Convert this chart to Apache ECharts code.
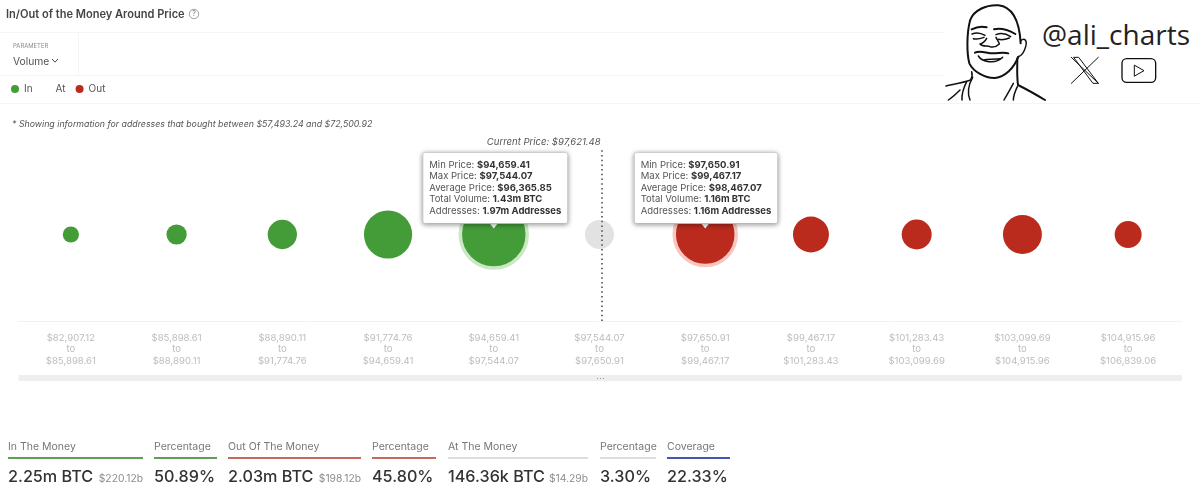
<!DOCTYPE html>
<html>
<head>
<meta charset="utf-8">
<title>In/Out of the Money Around Price</title>
<script src="https://cdn.jsdelivr.net/npm/echarts@6/dist/echarts.min.js"></script>
<style>
  html, body { margin: 0; padding: 0; background: #fff; }
  body { width: 1200px; height: 496px; overflow: hidden; position: relative; font-family: Inter, "Noto Sans", sans-serif; }
  #chart { position: absolute; left: 0; top: 0; width: 1200px; height: 496px; }
  .rule { position: absolute; background: #f5f5f5; }
  .abs { position: absolute; white-space: nowrap; }
  .stat { position: absolute; top: 440px; }
  .stat .name { font-size: 10.5px; line-height: 13px; color: #777; height: 17px; white-space: nowrap; }
  .stat .bar { height: 1.5px; }
  .stat .num { margin-top: 6px; font-size: 16.2px; line-height: 22px; font-weight: 500; color: #333; white-space: nowrap; display: flex; justify-content: space-between; align-items: baseline; }
  .stat .num small { font-size: 10.3px; font-weight: 400; color: #8d8d8d; }
</style>
</head>
<body>
<div id="chart"></div>

<div class="rule" style="left:0;top:32px;width:945px;height:1px"></div>
<div class="rule" style="left:0;top:75px;width:1200px;height:1px"></div>
<div class="rule" style="left:0;top:103px;width:1200px;height:1px"></div>
<div class="rule" style="left:78px;top:32px;width:1px;height:43px"></div>

<svg class="abs" style="left:188px;top:8px" width="12" height="12" viewBox="0 0 12 12">
  <circle cx="6" cy="6" r="4.7" fill="none" stroke="#888" stroke-width="0.8"/>
  <text x="6" y="8.4" text-anchor="middle" font-size="7" fill="#777" font-family="Inter">?</text>
</svg>
<div class="abs" style="left:13px;top:42px;font-size:5.9px;color:#8a8a8a">PARAMETER</div>
<div class="abs" style="left:13px;top:55px;font-size:10.3px;color:#555">Volume</div>
<svg class="abs" style="left:51px;top:58px" width="8" height="6" viewBox="0 0 8 6">
  <path d="M1 1 L4 4.2 L7 1" fill="none" stroke="#444" stroke-width="1"/>
</svg>

<!-- watermark -->
<div class="abs" style="left:945px;top:0;width:255px;height:102px;background:#fff"></div>
<svg class="abs" style="left:930px;top:0" width="270" height="110" viewBox="0 0 810 330" fill="none" stroke="#111" stroke-width="4.5" stroke-linecap="round" stroke-linejoin="round">
  <path d="M120 62 C130 30 170 14 205 16 C245 20 268 60 272 130" stroke-width="6"/>
  <path d="M120 62 C110 100 110 160 118 190 C130 215 165 235 195 234 C225 230 252 205 265 170" stroke-width="6"/>
  <path d="M272 122 C285 112 292 122 287 140 C282 158 272 168 265 170"/>
  <path d="M262 175 C262 200 260 225 264 255 C290 268 320 285 345 300" stroke-width="6"/>
  <path d="M125 215 C128 225 125 235 122 240 C100 248 75 252 48 258"/>
  <path d="M128 232 C115 255 112 280 120 300 M110 245 C100 265 95 285 96 300 M90 270 C80 280 70 290 55 300"/>
  <path d="M250 250 C240 270 230 285 222 300 M262 260 C255 275 250 290 250 300"/>
  <path d="M125 88 C140 80 155 78 170 82 M192 88 C210 84 235 90 256 102" stroke-width="6"/>
  <path d="M126 102 C140 96 155 100 165 106 M130 116 C142 120 152 116 162 112 M198 104 C212 98 230 102 242 110 M205 118 C215 120 228 118 238 114"/>
  <path d="M170 115 C165 125 155 132 150 132 C158 142 172 136 180 140 C190 142 202 138 208 132 C206 125 202 120 198 112"/>
  <path d="M135 158 C150 150 170 160 190 160 C205 160 220 155 235 160" stroke-width="6"/>
  <path d="M145 168 C155 185 195 195 218 172 M160 180 C175 178 195 178 210 176"/>
  <path d="M424 172 L505 250 M505 172 L424 250 M432 172 L446 172 L505 250 L490 250 Z" stroke-width="3"/>
  <rect x="576" y="176" width="101" height="71" rx="14" stroke-width="4"/>
  <path d="M614 196 L642 212 L614 228 Z" stroke-width="3"/>
</svg>
<div class="abs" style="left:1042px;top:15px;font-family:'Open Sans';font-size:28px;line-height:38px;color:#222">@ali_charts</div>

<div id="stats"></div>

<script>
// prices of each band
var bandLows = ['$82,907.12', '$85,898.61', '$88,890.11', '$91,774.76', '$94,659.41', '$97,544.07', '$97,650.91', '$99,467.17', '$101,283.43', '$103,099.69', '$104,915.96'];
var bandHighs = ['$85,898.61', '$88,890.11', '$91,774.76', '$94,659.41', '$97,544.07', '$97,650.91', '$99,467.17', '$101,283.43', '$103,099.69', '$104,915.96', '$106,839.06'];

// volume per band in thousands of BTC
var inVolumes = [30, 55, 150, 585, 1430];
var atVolumes = [146.36];
var outVolumes = [1160, 263, 160, 327, 120];

// the two callouts left open in the picture
var calloutBands = [4, 6];
var calloutMin = ['$94,659.41', '$97,650.91'];
var calloutMax = ['$97,544.07', '$99,467.17'];
var calloutAvg = ['$96,365.85', '$98,467.07'];
var calloutVolume = ['1.43m BTC', '1.16m BTC'];
var calloutAddresses = ['1.97m Addresses', '1.16m Addresses'];

var currentPriceLabel = 'Current Price: $97,621.48';
var currentPriceSlot = 5.52;

var statNames = ['In The Money', 'Percentage', 'Out Of The Money', 'Percentage', 'At The Money', 'Percentage', 'Coverage'];
var statValues = ['2.25m BTC', '50.89%', '2.03m BTC', '45.80%', '146.36k BTC', '3.30%', '22.33%'];
var statUsd = ['$220.12b', '', '$198.12b', '', '$14.29b', '', ''];

var GREEN = '#449c38', RED = '#ba2b1d', GREY = '#e2e2e2';
var statColors = ['#5f9f55', '#5f9f55', '#c46a58', '#c46a58', '#dddddd', '#dddddd', '#4357ad'];
var statLeft = [8, 154, 228, 372, 448, 600, 667];
var statWidth = [135, 63, 133, 64, 140, 56, 63];

var statsHtml = '';
statNames.forEach(function (name, i) {
    statsHtml += '<div class="stat" style="left:' + statLeft[i] + 'px;width:' + statWidth[i] + 'px">'
        + '<div class="name">' + name + '</div>'
        + '<div class="bar" style="background:' + statColors[i] + '"></div>'
        + '<div class="num"><span>' + statValues[i] + '</span>' + (statUsd[i] ? '<small>' + statUsd[i] + '</small>' : '') + '</div>'
        + '</div>';
});
document.getElementById('stats').innerHTML = statsHtml;

function bubbleSize(val) {
    return 29 * Math.pow(val[2] / 146.36, 0.367);
}

function bubbles(volumes, firstBand, haloColor) {
    return volumes.map(function (v, i) {
        var band = firstBand + i;
        var item = { value: [band, 0, v] };
        if (calloutBands.indexOf(band) !== -1) {
            item.itemStyle = { borderColor: haloColor, borderWidth: 3.5 };
        }
        return item;
    });
}

function calloutText(i) {
    return '{t|Min Price: }{b|' + calloutMin[i] + '}\n'
        + '{t|Max Price: }{b|' + calloutMax[i] + '}\n'
        + '{t|Average Price: }{b|' + calloutAvg[i] + '}\n'
        + '{t|Total Volume: }{b|' + calloutVolume[i] + '}\n'
        + '{t|Addresses: }{b|' + calloutAddresses[i] + '}';
}

var option = {
    animation: false,
    textStyle: { fontFamily: 'Inter' },
    title: [
        { text: 'In/Out of the Money Around Price', left: 6, top: 9, padding: 0,
          textStyle: { fontSize: 11.05, fontWeight: 600, color: '#444', fontFamily: 'Inter' } },
        { text: '* Showing information for addresses that bought between $57,493.24 and $72,500.92', left: 12, top: 120, padding: 0,
          textStyle: { fontSize: 8.8, fontWeight: 400, fontStyle: 'italic', color: '#555', fontFamily: 'Inter' } }
    ],
    legend: {
        data: [
            { name: 'In' },
            { name: 'At', itemStyle: { color: 'transparent' } },
            { name: 'Out' }
        ],
        left: 11, top: 84, padding: 0,
        icon: 'circle', itemWidth: 8, itemHeight: 8, itemGap: 10,
        selectedMode: false,
        textStyle: { fontSize: 10, color: '#555', fontFamily: 'Inter' }
    },
    grid: { left: 18, right: 19, top: 148, bottom: 175 },
    xAxis: [
        {
            type: 'category',
            data: bandLows,
            axisTick: { show: false },
            axisLine: { lineStyle: { color: '#f2f2f2' } },
            axisLabel: {
                interval: 0, margin: 11, color: '#bdbdbd', fontSize: 9.6, lineHeight: 11.5, fontFamily: 'Inter',
                formatter: function (low, i) { return low + '\nto\n' + bandHighs[i]; }
            }
        },
        // same width as the bands, only there to place the current price line
        { type: 'value', min: 0, max: 11, show: false }
    ],
    yAxis: { type: 'category', data: ['Volume'], show: false },
    dataZoom: [{
        type: 'slider', xAxisIndex: 0, filterMode: 'none', left: 18, right: 19, bottom: 115, height: 6,
        showDetail: false, showDataShadow: false, brushSelect: false, handleSize: 0, moveHandleSize: 0,
        borderColor: 'transparent', backgroundColor: '#eeeeee', fillerColor: '#eeeeee', borderRadius: 3,
        handleStyle: { opacity: 0 }
    }],
    graphic: [{
        type: 'text', left: 596, top: 374, z: 100,
        style: { text: '\u00b7\u00b7\u00b7', fill: '#888', fontSize: 9 }
    }],
    series: [
        { name: 'In', type: 'scatter', data: bubbles(inVolumes, 0, '#c9e8c3'), symbolSize: bubbleSize, itemStyle: { color: GREEN, opacity: 1 } },
        { name: 'At', type: 'scatter', data: bubbles(atVolumes, 5), symbolSize: bubbleSize, itemStyle: { color: GREY, opacity: 1 } },
        { name: 'Out', type: 'scatter', data: bubbles(outVolumes, 6, '#f8c6c0'), symbolSize: bubbleSize, itemStyle: { color: RED, opacity: 1 } },
        {
            name: 'Current price', type: 'line', xAxisIndex: 1, data: [], z: 4,
            markLine: {
                silent: true, symbol: 'none', animation: false,
                lineStyle: { color: '#444', width: 1.5, type: [1.5, 3.2], opacity: 1 },
                label: {
                    formatter: currentPriceLabel, position: 'end', align: 'right', distance: 1, padding: [0, 1, 0, 0],
                    fontSize: 9.5, fontStyle: 'italic', color: '#555', fontFamily: 'Inter'
                },
                data: [{ xAxis: currentPriceSlot }]
            }
        },
        {
            name: 'Callouts', type: 'scatter', z: 6,
            symbol: 'triangle', symbolSize: [8, 5], symbolRotate: 180, symbolOffset: [0, -8.5],
            itemStyle: { color: '#fff', opacity: 1 },
            data: calloutBands.map(function (band) { return [band, 0]; }),
            label: {
                show: true, position: 'top', distance: 0.5, offset: [-70.5, 0],
                align: 'left', verticalAlign: 'bottom',
                backgroundColor: '#fff', borderColor: '#e4e4e4', borderWidth: 1, borderRadius: 2,
                padding: [6, 6, 6, 6], shadowColor: 'rgba(0,0,0,0.35)', shadowBlur: 5, shadowOffsetY: 1,
                formatter: function (p) { return calloutText(p.dataIndex); },
                rich: {
                    t: { fontSize: 9.5, lineHeight: 11.6, color: '#555', fontFamily: 'Inter' },
                    b: { fontSize: 9.5, lineHeight: 11.6, color: '#333', fontWeight: 700, fontFamily: 'Inter' }
                }
            }
        }
    ]
};

var myChart = echarts.init(document.getElementById('chart'));
myChart.setOption(option);
</script>
</body>
</html>
